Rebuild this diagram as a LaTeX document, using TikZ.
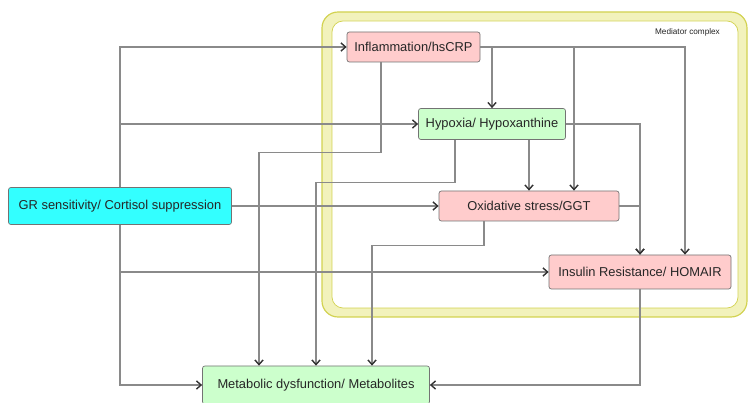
\documentclass[tikz,border=0pt]{standalone}
\usepackage{fontspec}
\setmainfont{Liberation Sans}
\usepackage{tikz}
\usetikzlibrary{arrows.meta, positioning, calc}
\usepackage{xcolor}
\definecolor{grcyan}{HTML}{33FFFF}
\definecolor{medpink}{HTML}{FFCCCC}
\definecolor{medgreen}{HTML}{CCFFCC}
\definecolor{ringfill}{HTML}{F2F2BC}
\definecolor{ringdraw}{HTML}{D2D250}
\definecolor{linkgray}{HTML}{8A8A8A}

\begin{document}
\begin{tikzpicture}[x=0.03cm, y=-0.03cm,
  box/.style={rectangle, rounded corners=2pt, draw=black!55, line width=0.6pt,
              inner sep=0pt, font=\fontsize{11}{13}\selectfont, align=center,
              text=black!85},
  link/.style={draw=linkgray, line width=0.9pt,
               -{Straight Barb[length=4pt, width=7pt, line width=1.2pt, color=black!80]}}
]
  \useasboundingbox (0,0) rectangle (749,403);

  % mediator complex frame
  \draw[ringdraw, fill=ringfill, line width=1pt, rounded corners=0.48cm]
    (322,12) rectangle (747,317);
  \draw[ringdraw, fill=white, line width=0.6pt, rounded corners=0.33cm]
    (332,21) rectangle (738,308);
  \node[anchor=east, font=\fontsize{7}{8}\selectfont, text=black!85] (medlbl) at (724,32) {Mediator complex};

  \node[box, fill=grcyan, minimum width=6.69cm, minimum height=1.11cm]
    (gr) at (120,206) {GR sensitivity/ Cortisol suppression};
  \node[box, fill=medpink, minimum width=3.99cm, minimum height=0.9cm]
    (inf) at (413.5,47) {Inflammation/hsCRP};
  \node[box, fill=medgreen, minimum width=4.41cm, minimum height=0.93cm]
    (hyp) at (492,124) {Hypoxia/ Hypoxanthine};
  \node[box, fill=medpink, minimum width=5.4cm, minimum height=0.9cm]
    (oxi) at (529,206) {Oxidative stress/GGT};
  \node[box, fill=medpink, minimum width=5.46cm, minimum height=1.02cm]
    (ins) at (640,272) {Insulin Resistance/ HOMAIR};
  \node[box, fill=medgreen, minimum width=6.81cm, minimum height=1.14cm]
    (met) at (316,385) {Metabolic dysfunction/ Metabolites};

  % from GR sensitivity
  \draw[link] (gr.north) |- (inf.west);
  \draw[link] (gr.north) |- (hyp.west);
  \draw[link] (gr.east) -- (oxi.west);
  \draw[link] (gr.south) |- (ins.west);
  \draw[link] (gr.south) |- (met.west);

  % inside the mediator complex
  \draw[link] (inf.east) -| (hyp.north);
  \draw[link] (inf.east) -| ([xshift=1.35cm]oxi.north);
  \draw[link] (inf.east) -| ([xshift=1.35cm]ins.north);
  \draw[link] (hyp.south -| oxi.north) -- (oxi.north);
  \draw[link] (hyp.east) -| (ins.north);
  \draw[link] (oxi.east) -| (ins.north);

  % down to metabolic dysfunction
  \draw[link] ([xshift=-0.975cm]inf.south) -- ++(0,90) -| ([xshift=-1.71cm]met.north);
  \draw[link] ([xshift=-1.11cm]hyp.south) -- ++(0,43) -| (met.north);
  \draw[link] ([xshift=-1.35cm]oxi.south) -- ++(0,24) -| ([xshift=1.68cm]met.north);
  \draw[link] (ins.south) |- (met.east);
\end{tikzpicture}
\end{document}
